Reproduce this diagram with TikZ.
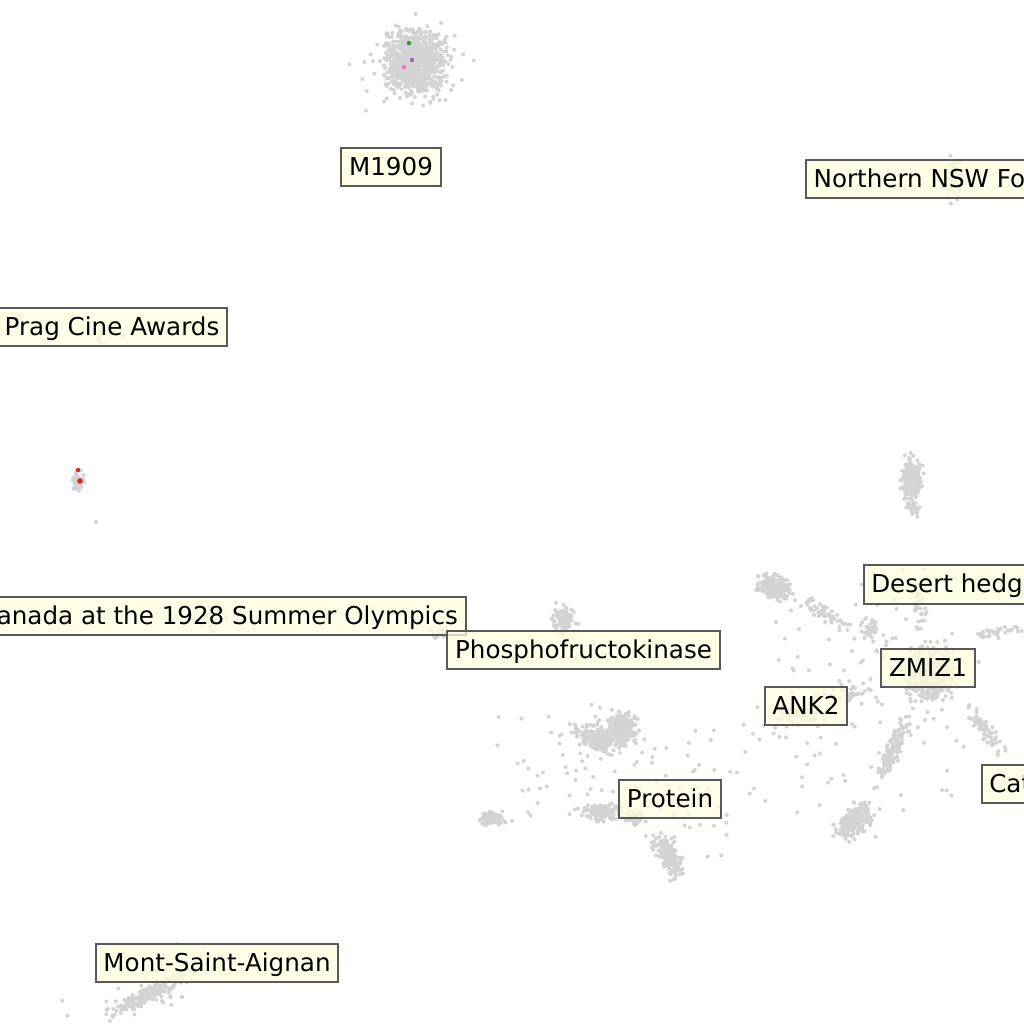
\documentclass[tikz,border=0pt]{standalone}
\usepackage{fontspec}
\setmainfont{DejaVu Sans}
\definecolor{pointgrey}{HTML}{D3D3D3}
\definecolor{boxfill}{HTML}{FFFFE0}
\definecolor{tabred}{HTML}{D62728}
\definecolor{tabgreen}{HTML}{2CA02C}
\definecolor{tabpurple}{HTML}{9467BD}
\definecolor{tabpink}{HTML}{E377C2}
\tikzset{
    sample/.style={fill=pointgrey},
    hit/.style={fill=#1},
    namebox/.style={
        rectangle, draw=black!65, line width=1pt,
        fill=boxfill, fill opacity=0.75, text opacity=1,
        inner xsep=3.8pt, inner ysep=0pt,
        minimum height=19.4pt, text height=9.5pt, text depth=1.5pt,
        font=\fontsize{12.3pt}{14pt}\selectfont
    }
}
% centre x, centre y, spread u, spread v, angle, count
\newcommand{\pointcloud}[6]{%
  \begin{scope}[shift={(#1,#2)}, rotate=#5]
    \foreach \k in {1,...,#6}{%
      \pgfmathsetmacro{\du}{(rand+rand+rand)*#3/1.73}%
      \pgfmathsetmacro{\dv}{(rand+rand+rand)*#4/1.73}%
      \fill[sample] (\du,\dv) circle[radius=1pt];
    }
  \end{scope}}
\begin{document}
\begin{tikzpicture}[x=0.5pt, y=-0.5pt]
\useasboundingbox (0,0) rectangle (1024,1024);
\clip (0,0) rectangle (1024,1024);
\pgfmathsetseed{7}

% top cluster
\pointcloud{415}{62}{24}{24}{0}{800}
\pointcloud{415}{63}{34}{34}{0}{150}
\pointcloud{412}{66}{52}{48}{0}{25}

% upper right and left edge
\pointcloud{955}{180}{7}{20}{0}{45}
\pointcloud{108}{332}{12}{9}{0}{15}
\pointcloud{79}{481}{5}{8}{0}{40}
\fill[sample] (96,522) circle[radius=1pt];

% middle row
\pointcloud{213}{618}{12}{15}{0}{20}
\pointcloud{438}{634}{7}{5}{0}{25}
\pointcloud{563}{619}{10}{11}{0}{100}
\pointcloud{595}{738}{17}{9}{-15}{170}
\pointcloud{622}{728}{11}{14}{0}{170}
\pointcloud{600}{735}{35}{25}{0}{40}

% lower row
\pointcloud{493}{818}{10}{6}{0}{70}
\pointcloud{603}{812}{16}{7}{0}{130}
\pointcloud{635}{818}{8}{8}{0}{40}
\pointcloud{668}{855}{18}{8}{-58}{170}
\pointcloud{560}{770}{60}{50}{0}{40}
\pointcloud{700}{780}{60}{60}{0}{40}

% bottom left
\pointcloud{150}{993}{34}{6}{27}{220}
\pointcloud{150}{985}{60}{20}{27}{30}

% right group
\pointcloud{912}{478}{8}{17}{0}{230}
\pointcloud{913}{508}{5}{8}{0}{30}
\pointcloud{775}{588}{14}{9}{-25}{240}
\pointcloud{825}{615}{28}{6}{-33}{55}
\pointcloud{930}{674}{20}{22}{0}{400}
\pointcloud{920}{600}{5}{25}{0}{40}
\pointcloud{893}{750}{30}{6}{66}{130}
\pointcloud{855}{820}{17}{10}{53}{240}
\pointcloud{985}{730}{22}{6}{-50}{75}
\pointcloud{995}{632}{20}{4}{10}{40}
\pointcloud{800}{712}{18}{10}{0}{80}
\pointcloud{850}{695}{20}{6}{10}{30}
\pointcloud{870}{630}{10}{10}{0}{30}
\pointcloud{850}{700}{90}{90}{0}{120}

% marked samples
\fill[hit=tabgreen] (409,43) circle[radius=1.1pt];
\fill[hit=tabpurple] (412,60) circle[radius=1.1pt];
\fill[hit=tabpink] (404,67) circle[radius=1.1pt];
\fill[hit=tabred] (78,470) circle[radius=1.1pt];
\fill[hit=tabred] (80,481) circle[radius=1.4pt];

% labels
\node[namebox] (m1909) at (391,167) {M1909};
\node[namebox, anchor=west] (nsw) at (805,179) {Northern NSW Fo};
\node[namebox, anchor=east] (prag) at (228,327) {Prag Cine Awards};
\node[namebox, anchor=east] (canada) at (466.5,616) {anada at the 1928 Summer Olympics};
\node[namebox] (pfk) at (583.5,650) {Phosphofructokinase};
\node[namebox, anchor=west] (desert) at (862.7,584.3) {Desert hedg};
\node[namebox] (zmiz1) at (928,668) {ZMIZ1};
\node[namebox] (ank2) at (806,706) {ANK2};
\node[namebox, anchor=west] (cat) at (980.7,784) {Cat};
\node[namebox] (protein) at (670,799) {Protein};
\node[namebox] (msa) at (217,963) {Mont-Saint-Aignan};

\end{tikzpicture}
\end{document}
